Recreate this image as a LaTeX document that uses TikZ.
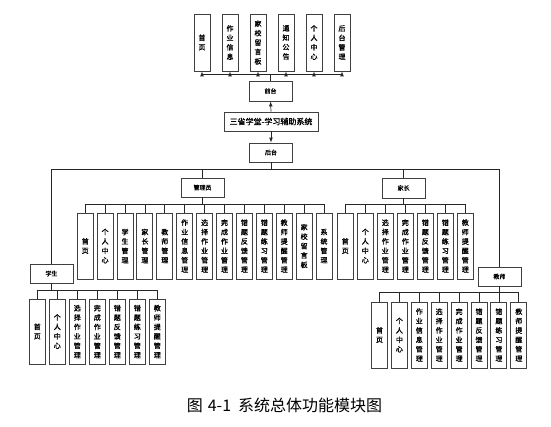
\documentclass[tikz,border=0pt]{standalone}
\usepackage{fontspec}
\setmainfont{Noto Sans CJK SC}
\newfontfamily\hei[FakeBold=1.2]{Noto Sans CJK SC}
\usetikzlibrary{calc,positioning}

\begin{document}
\begin{tikzpicture}[x=1pt,y=-1pt,
		box/.style={draw=black!75,line width=0.9pt,fill=white,inner sep=0pt},
		rolebox/.style={box,minimum width=43pt,minimum height=19pt,font=\hei\fontsize{6}{7}\selectfont},
		vbox/.style={box,minimum width=16pt,minimum height=66pt,align=center,font=\hei\fontsize{7}{9.4}\selectfont},
		link/.style={draw=black!85,line width=0.7pt},
		arrow/.style={link,->,>=latex}
	]
		\useasboundingbox (0,0) rectangle (551,427);

		% 前台模块
		\foreach \t [count=\i] in {首\\页,作\\业\\信\\息,家\\校\\留\\言\\板,通\\知\\公\\告,个\\人\\中\\心,后\\台\\管\\理}
			\node[vbox,minimum height=57pt] (top\i) at ({174+28*\i},42.5) {\t};
		\node[rolebox,minimum height=20pt] (qt) at (270.5,91) {前台};
		\foreach \i in {1,...,6}
			\draw[arrow] (qt.north) -- ++(0,-6) -| (top\i.south);

		% 系统
		\node[box,minimum width=94pt,minimum height=19pt,font=\hei\fontsize{8}{9}\selectfont] (sys) at (271,121.5) {三省学堂-学习辅助系统};
		\node[rolebox] (ht) at (271,152.5) {后台};
		\draw[arrow] (sys.north) -- (qt.south);
		\draw[arrow] (sys.south) -- (ht.north);

		% 后台角色
		\node[rolebox] (adm) at (202.5,187.5) {管理员};
		\node[rolebox,minimum height=20pt] (par) at (403.5,188) {家长};
		\node[rolebox] (stu) at (51.5,273.5) {学生};
		\node[rolebox] (tea) at (499.5,276.5) {教师};
		\foreach \r in {adm,par,stu,tea}
			\draw[link] (ht.south) -- ++(0,7) -| (\r.north);

		% 管理员
		\foreach \t [count=\i from 0] in {首\\页,个\\人\\中\\心,学\\生\\管\\理,家\\长\\管\\理,教\\师\\管\\理,作\\业\\信\\息\\管\\理,选\\择\\作\\业\\管\\理,完\\成\\作\\业\\管\\理,错\\题\\反\\馈\\管\\理,错\\题\\练\\习\\管\\理,教\\师\\提\\醒\\管\\理,家\\校\\留\\言\\板,系\\统\\管\\理}{
			\node[vbox] (adm\i) at ({85.2+19.9*\i},246) {\t};
			\draw[link] (adm.south) -- ++(0,7) -| (adm\i.north);
		}

		% 家长
		\foreach \t [count=\i from 0] in {首\\页,个\\人\\中\\心,选\\择\\作\\业\\管\\理,完\\成\\作\\业\\管\\理,错\\题\\反\\馈\\管\\理,错\\题\\练\\习\\管\\理,教\\师\\提\\醒\\管\\理}{
			\node[vbox] (par\i) at ({345.3+20*\i},246) {\t};
			\draw[link] (par.south) -- ++(0,6) -| (par\i.north);
		}

		% 学生
		\foreach \t [count=\i from 0] in {首\\页,个\\人\\中\\心,选\\择\\作\\业\\管\\理,完\\成\\作\\业\\管\\理,错\\题\\反\\馈\\管\\理,错\\题\\练\\习\\管\\理,教\\师\\提\\醒\\管\\理}{
			\node[vbox,minimum height=65pt] (stu\i) at ({37.3+20*\i},331.5) {\t};
			\draw[link] (stu.south) -- ++(0,7) -| (stu\i.north);
		}

		% 教师
		\foreach \t [count=\i from 0] in {首\\页,个\\人\\中\\心,作\\业\\信\\息\\管\\理,选\\择\\作\\业\\管\\理,完\\成\\作\\业\\管\\理,错\\题\\反\\馈\\管\\理,错\\题\\练\\习\\管\\理,教\\师\\提\\醒\\管\\理}{
			\node[vbox] (tea\i) at ({379.5+19.9*\i},335) {\t};
			\draw[link] (tea.south) -- ++(0,6) -| (tea\i.north);
		}

		% 图题
		\node[font=\fontsize{16}{18}\selectfont] (cap) at (284.5,405) {图\hspace{5pt}4-1\hspace{7pt}系统总体功能模块图};
	\end{tikzpicture}
\end{document}
